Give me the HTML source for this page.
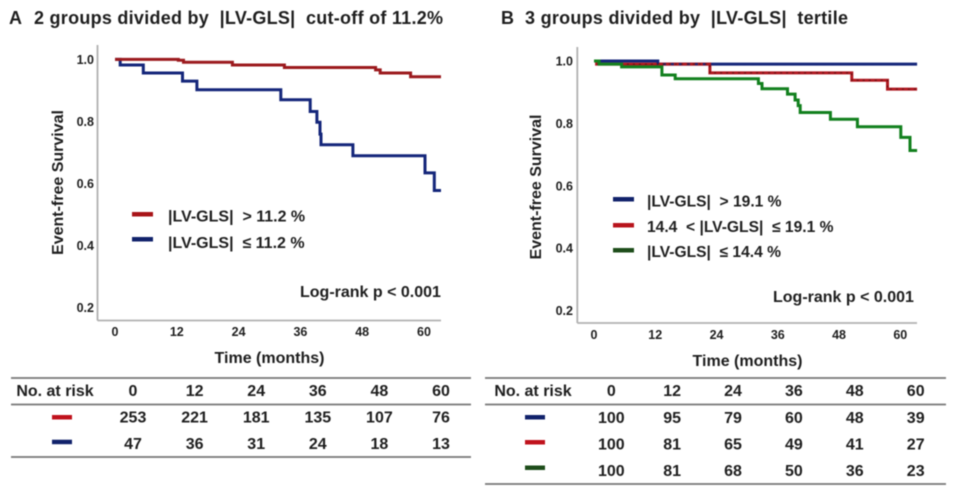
<!DOCTYPE html>
<html lang="en">
<head>
<meta charset="utf-8">
<title>Event-free survival by |LV-GLS|</title>
<style>
html,body{margin:0;padding:0;background:#fff;width:957px;height:494px;overflow:hidden}
svg{display:block;filter:blur(.45px)}
text{font-family:"Liberation Sans",sans-serif;font-weight:bold;fill:#1e1e1e;white-space:pre}
.title{font-size:18px}
.tick{font-size:12.5px}
.axt{font-size:16px}
.leg{font-size:16px}
.legb{font-size:15.6px}
.tab{font-size:16px}
.log{font-size:16px}
</style>
</head>
<body>
<svg id="fig" xmlns="http://www.w3.org/2000/svg" width="957" height="494" viewBox="0 0 957 494">
  <text class="title" x="9" y="24">A</text>
  <text class="title" x="34" y="24" textLength="409" lengthAdjust="spacing">2 groups divided by  |LV-GLS|  cut-off of 11.2%</text>
  <text class="title" x="501" y="24">B</text>
  <text class="title" x="525" y="24" textLength="323" lengthAdjust="spacing">3 groups divided by  |LV-GLS|  tertile</text>

  <text class="axt" transform="translate(63,182.5) rotate(-90)" text-anchor="middle">Event-free Survival</text>
  <text class="axt" transform="translate(541,187) rotate(-90)" text-anchor="middle">Event-free Survival</text>
  <text class="axt" x="269.5" y="363" text-anchor="middle">Time (months)</text>
  <text class="axt" x="747.5" y="366" text-anchor="middle">Time (months)</text>

  <g id="panelA"></g>
  <g id="panelB"></g>

  <g>
    <rect x="132" y="212" width="21" height="4.5" fill="#a81418"/>
    <text class="leg" x="168" y="221.5">|LV-GLS|  &gt; 11.2 %</text>
    <rect x="132" y="237" width="21" height="4.5" fill="#11226b"/>
    <text class="leg" x="168" y="248">|LV-GLS|  ≤ 11.2 %</text>
  </g>
  <text class="log" x="300" y="297">Log-rank p &lt; 0.001</text>

  <g>
    <rect x="613" y="197" width="21" height="4.5" fill="#11226b"/>
    <text class="legb" x="647" y="206.5">|LV-GLS|  &gt; 19.1 %</text>
    <rect x="613" y="223" width="21" height="4.5" fill="#b8141c"/>
    <text class="legb" x="647" y="232">14.4  &lt; |LV-GLS|  ≤ 19.1 %</text>
    <rect x="613" y="248" width="21" height="4.5" fill="#1e4d1a"/>
    <text class="legb" x="647" y="257">|LV-GLS|  ≤ 14.4 %</text>
  </g>
  <text class="log" x="773" y="302">Log-rank p &lt; 0.001</text>

  <g id="tableA"></g>
  <g id="tableB"></g>
</svg>
<script>
// ---- Shared tick labels ----
const timeTicks = [0, 12, 24, 36, 48, 60];
const survivalTicks = [1.0, 0.8, 0.6, 0.4, 0.2];

// ---- Panel A survival steps ----
const highTimes  = [0, 12.3, 13.3, 22.8, 32.9, 50.6, 51.5, 57.4, 63.3];
const highValues = [1, 0.997, 0.991, 0.982, 0.974, 0.966, 0.956, 0.944, 0.944];
const lowTimes   = [0, 1, 5.5, 13.1, 15.9, 32.2, 37.9, 39.2, 39.8, 40, 46.2, 60.2, 62, 63.3];
const lowValues  = [1, 0.982, 0.956, 0.930, 0.902, 0.870, 0.832, 0.797, 0.759, 0.725, 0.689, 0.634, 0.577, 0.577];

// ---- Panel B survival steps ----
const upperTimes  = [0, 12.5, 63.3];
const upperValues = [1, 0.99, 0.99];
const middleTimes  = [0, 0.5, 22.7, 50.5, 57.5, 63.3];
const middleValues = [1, 0.99, 0.962, 0.938, 0.91, 0.91];
const lowerTimes  = [0, 1, 5.4, 13.3, 15.9, 32.2, 32.9, 37.9, 39.4, 40, 40.4, 46.3, 51.6, 60.1, 61.9, 63.3];
const lowerValues = [1, 0.99, 0.981, 0.955, 0.943, 0.928, 0.911, 0.894, 0.875, 0.857, 0.835, 0.813, 0.789, 0.755, 0.713, 0.713];

// ---- Risk tables ----
const riskHighA = [253, 221, 181, 135, 107, 76];
const riskLowA  = [47, 36, 31, 24, 18, 13];
const riskUpperB  = [100, 95, 79, 60, 48, 39];
const riskMiddleB = [100, 81, 65, 49, 41, 27];
const riskLowerB  = [100, 81, 68, 50, 36, 23];

const NS = 'http://www.w3.org/2000/svg';
function mk(parent, tag, attrs, txt) {
  const el = document.createElementNS(NS, tag);
  for (const k in attrs) el.setAttribute(k, attrs[k]);
  if (txt !== undefined) el.textContent = txt;
  parent.appendChild(el);
  return el;
}
function scale(d0, d1, r0, r1) {
  return v => r0 + (v - d0) * (r1 - r0) / (d1 - d0);
}
function stepPath(times, values, x, y) {
  let d = 'M' + x(times[0]).toFixed(1) + ' ' + y(values[0]).toFixed(1);
  for (let i = 1; i < times.length; i++) {
    d += 'H' + x(times[i]).toFixed(1) + 'V' + y(values[i]).toFixed(1);
  }
  return d;
}
function drawAxes(g, prefix, x, y, axisX, axisBottom, axisTop, axisRight, tickLabelRight, tickBaseline) {
  const yLine = mk(g, 'line', {x1: axisX, x2: axisX, y1: axisTop, y2: axisBottom, stroke: '#b0b0b0', 'stroke-width': 1.8});
  
  
  const xLine = mk(g, 'line', {x1: axisX, x2: axisRight, y1: axisBottom, y2: axisBottom, stroke: '#b0b0b0', 'stroke-width': 1.8});
  
  
  survivalTicks.forEach(v => {
    const t = mk(g, 'text', {class: 'tick', x: tickLabelRight, y: y(v) + 4.5, 'text-anchor': 'end'}, v.toFixed(1));
    
    
  });
  timeTicks.forEach(v => {
    const t = mk(g, 'text', {class: 'tick', x: x(v), y: tickBaseline, 'text-anchor': 'middle'}, String(v));
    
    
  });
}
function drawSeries(g, name, times, values, x, y, color, extra) {
  const attrs = {d: stepPath(times, values, x, y), fill: 'none', stroke: color, 'stroke-width': 3, 'stroke-linejoin': 'miter'};
  if (extra) for (const k in extra) attrs[k] = extra[k];
  const p = mk(g, 'path', attrs);
  
  
}
function drawTable(g, prefix, columns, lineYs, x0, x1, headerX, swatchX, headerY, rows) {
  lineYs.forEach(ly => {
    const l = mk(g, 'line', {x1: x0, x2: x1, y1: ly, y2: ly, stroke: '#777', 'stroke-width': 1.8});
    
    
  });
  const h = mk(g, 'text', {class: 'tab', x: headerX, y: headerY, 'text-anchor': 'middle'}, 'No. at risk');
  
  
  timeTicks.forEach((v, i) => {
    const t = mk(g, 'text', {class: 'tab', x: columns(i), y: headerY, 'text-anchor': 'middle'}, String(v));
    
    
  });
  rows.forEach(row => {
    const s = mk(g, 'rect', {x: swatchX, y: row.swatchY - 2, width: 20, height: 4.5, fill: row.color});
    
    
    row.values.forEach((v, i) => {
      const t = mk(g, 'text', {class: 'tab', x: columns(i), y: row.baseline, 'text-anchor': 'middle'}, String(v));
      
      
    });
  });
}

// ---- Panel A ----
const xA = scale(0, 60, 115, 424);
const yA = scale(1, 0.2, 59.4, 307.4);
const gA = document.getElementById('panelA');
drawAxes(gA, 'panel-a', xA, yA, 97.5, 320.5, 45, 441, 94, 336);
drawSeries(gA, 'curve-low-lv-gls', lowTimes, lowValues, xA, yA, '#14267a');
drawSeries(gA, 'curve-high-lv-gls', highTimes, highValues, xA, yA, '#9c1a1e');

// ---- Panel B ----
const xB = scale(0, 60, 594, 900.3);
const yB = scale(1, 0.2, 61, 310.5);
const gB = document.getElementById('panelB');
drawAxes(gB, 'panel-b', xB, yB, 577.3, 323, 47, 917, 573, 339);
drawSeries(gB, 'curve-upper-tertile', upperTimes, upperValues, xB, yB, '#14267a');
drawSeries(gB, 'curve-middle-tertile', middleTimes, middleValues, xB, yB, '#b01820');
drawSeries(gB, 'curve-upper-tertile-overlap', upperTimes, upperValues, xB, yB, '#14267a', {'stroke-dasharray': '3 5', 'stroke-width': 2});
drawSeries(gB, 'curve-middle-tertile-speckle', middleTimes, middleValues, xB, yB, '#5a1214', {'stroke-dasharray': '2 4', 'stroke-width': 1});
drawSeries(gB, 'curve-lower-tertile', lowerTimes, lowerValues, xB, yB, '#12801e');

// ---- Risk tables ----
const colA = scale(0, 5, 133, 441);
drawTable(document.getElementById('tableA'), 'panel-a-table', colA, [378, 404.5, 457], 11, 471, 55, 52, 396, [
  {values: riskHighA, color: '#c0121c', swatchY: 417, baseline: 422.5},
  {values: riskLowA, color: '#11226b', swatchY: 441.7, baseline: 449}
]);
const colB = scale(0, 5, 611.3, 915.7);
drawTable(document.getElementById('tableB'), 'panel-b-table', colB, [378, 404.5, 484], 485, 946, 533, 525, 396, [
  {values: riskUpperB, color: '#11226b', swatchY: 417, baseline: 423},
  {values: riskMiddleB, color: '#c0121c', swatchY: 442, baseline: 449.5},
  {values: riskLowerB, color: '#1e4d1a', swatchY: 467.5, baseline: 476}
]);
</script>
</body>
</html>
